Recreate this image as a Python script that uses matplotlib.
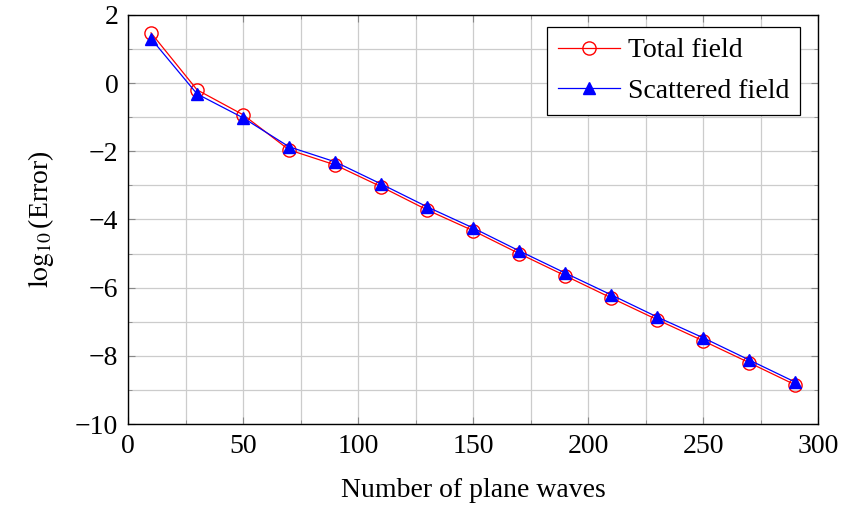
import matplotlib
matplotlib.use('Agg')
import matplotlib.pyplot as plt
from matplotlib.ticker import MultipleLocator, FuncFormatter

plt.rcParams['font.family'] = ['Liberation Serif', 'DejaVu Serif']
plt.rcParams['mathtext.fontset'] = 'stix'

# data
n_waves = [10, 30, 50, 70, 90, 110, 130, 150, 170, 190, 210, 230, 250, 270, 290]
total_field = [1.47, -0.20, -0.93, -1.96, -2.40, -3.04, -3.72, -4.33, -5.00,
               -5.65, -6.30, -6.94, -7.56, -8.20, -8.85]
scattered_field = [1.30, -0.32, -1.02, -1.87, -2.31, -2.96, -3.63, -4.25, -4.92,
                   -5.57, -6.21, -6.86, -7.47, -8.12, -8.77]

fig = plt.figure(figsize=(8.48, 5.11), dpi=100)
ax = fig.add_axes([0.151, 0.170, 0.814, 0.801])

ax.plot(n_waves, total_field, color='red', lw=0.9, marker='o', ms=9.5,
        mfc='none', mec='red', mew=1.0, label='Total field')
ax.plot(n_waves, scattered_field, color='blue', lw=0.9, marker='^', ms=8.5,
        mfc='blue', mec='blue', label='Scattered field')

ax.set_xlim(0, 300)
ax.set_ylim(-10, 2)
ax.xaxis.set_major_locator(MultipleLocator(50))
ax.xaxis.set_minor_locator(MultipleLocator(25))
ax.yaxis.set_major_locator(MultipleLocator(2))
ax.yaxis.set_minor_locator(MultipleLocator(1))
ax.grid(which='both', color='#cccccc', lw=0.9)
ax.set_axisbelow(True)
ax.tick_params(which='both', direction='in', top=True, right=True,
               color='#888888', labelsize=20)
ax.tick_params(which='major', length=5)
ax.tick_params(which='minor', length=3)
ax.tick_params(axis='x', pad=7)
ax.tick_params(axis='y', pad=7)
for s in ax.spines.values():
    s.set_linewidth(1.0)

fmt = FuncFormatter(lambda v, p: ('\u2212%d' % -v) if v < 0 else '%d' % v)
ax.xaxis.set_major_formatter(fmt)
ax.yaxis.set_major_formatter(fmt)

ax.set_xlabel('Number of plane waves', fontsize=20, labelpad=14)
ax.set_ylabel(r'$\log_{10}$(Error)', fontsize=20, labelpad=14)

leg = ax.legend(loc='upper right', fontsize=20, frameon=True, fancybox=False,
                edgecolor='black', framealpha=1, borderpad=0.4,
                borderaxespad=0, handlelength=2.2, handletextpad=0.3,
                labelspacing=0.55, bbox_to_anchor=(0.974, 0.971))
leg.get_frame().set_linewidth(0.9)

fig.savefig('out.png', dpi=100)
